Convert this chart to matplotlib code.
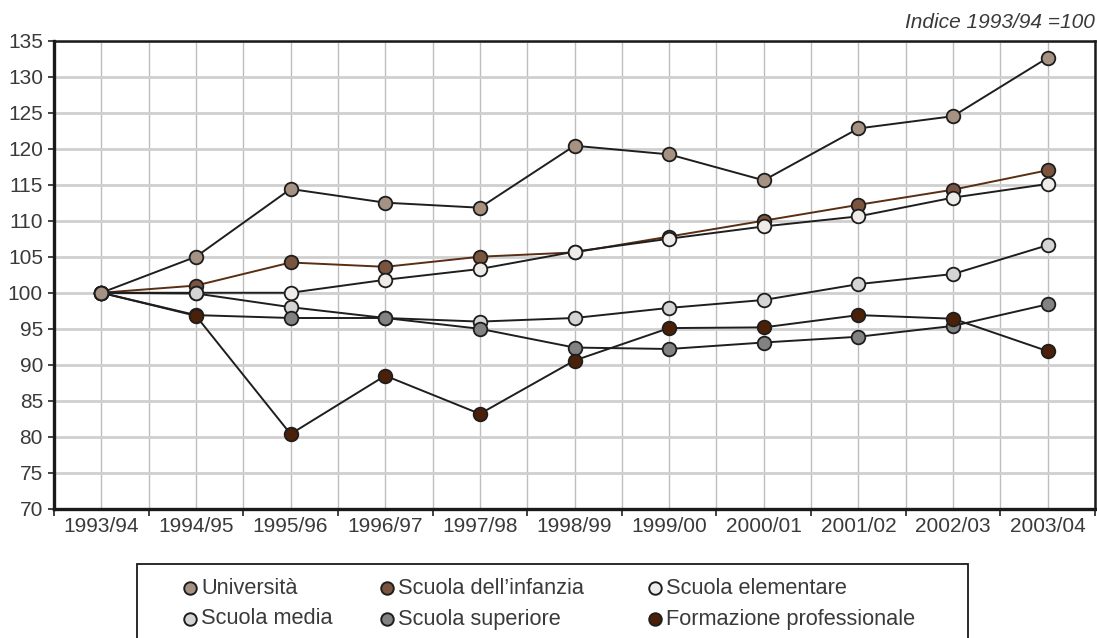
import matplotlib
matplotlib.use("Agg")
import matplotlib.pyplot as plt
from matplotlib.lines import Line2D
from matplotlib.patches import Rectangle

plt.rcParams['font.family'] = ['Liberation Sans', 'DejaVu Sans']

years = ['1993/94', '1994/95', '1995/96', '1996/97', '1997/98', '1998/99',
         '1999/00', '2000/01', '2001/02', '2002/03', '2003/04']

universita = [100, 105.0, 114.4, 112.5, 111.8, 120.4, 119.2, 115.6, 122.8, 124.5, 132.6]
infanzia = [100, 101.0, 104.2, 103.6, 105.0, 105.6, 107.8, 110.0, 112.2, 114.3, 117.0]
elementare = [100, 100.0, 100.0, 101.8, 103.3, 105.7, 107.5, 109.2, 110.6, 113.2, 115.1]
media = [100, 99.9, 98.0, 96.5, 96.0, 96.5, 97.9, 99.0, 101.2, 102.6, 106.6]
superiore = [100, 96.9, 96.5, 96.5, 95.0, 92.4, 92.2, 93.1, 93.9, 95.4, 98.4]
formazione = [100, 96.8, 80.4, 88.5, 83.2, 90.6, 95.1, 95.2, 96.9, 96.4, 91.9]

# name, values, marker colour, line colour, zorder
series = [
    ('Università', universita, '#a69282', '#1e1e1e', 8),
    ('Scuola dell\u2019infanzia', infanzia, '#7b5440', '#5a2e12', 3),
    ('Scuola elementare', elementare, '#efebe8', '#1e1e1e', 4),
    ('Scuola media', media, '#d4d4d4', '#1e1e1e', 5),
    ('Scuola superiore', superiore, '#828282', '#1e1e1e', 6),
    ('Formazione professionale', formazione, '#4b2008', '#1e1e1e', 7),
]

W, H = 1097, 638
fig = plt.figure(figsize=(W / 100, H / 100), dpi=100)
ax = fig.add_axes([54 / W, 1 - 509 / H, (1095 - 54) / W, (509 - 40.5) / H])

x = list(range(len(years)))
for name, vals, mc, lc, z in series:
    ax.plot(x, vals, color=lc, lw=1.4, marker='o', markersize=9.8,
            markerfacecolor=mc, markeredgecolor='#1e1e1e', markeredgewidth=1.3,
            zorder=z)

ax.set_xlim(-0.5, len(years) - 0.5)
ax.set_ylim(70, 135)
ax.set_yticks(range(70, 136, 5))
ax.set_xticks(x)
ax.set_xticklabels(years)
ax.set_xticks([i + 0.5 for i in range(-1, len(years))], minor=True)

ax.tick_params(axis='x', which='major', length=0, pad=6, labelsize=15, labelcolor='#3a3a3a')
ax.tick_params(axis='x', which='minor', length=5, width=1.2, color='#222222', direction='out')
ax.tick_params(axis='y', length=4, width=1.2, color='#222222', pad=4, labelsize=15,
               labelcolor='#3a3a3a')

ax.grid(axis='y', color='#cfcfcf', lw=2, zorder=0)
ax.grid(axis='x', which='both', color='#bdbdbd', lw=1, zorder=0)
ax.set_axisbelow(True)

for s in ['left', 'bottom']:
    ax.spines[s].set_linewidth(2.4)
    ax.spines[s].set_color('#1a1a1a')
for s in ['top', 'right']:
    ax.spines[s].set_linewidth(1.8)
    ax.spines[s].set_color('#1a1a1a')

fig.text(1095 / W, 1 - 22 / H, 'Indice 1993/94 =100', ha='right', va='center',
         fontsize=15, style='italic', color='#3a3a3a')

# legend box (runs off the bottom edge, as in the original)
fig.add_artist(Rectangle((137 / W, -10 / H), (968 - 137) / W, (H + 10 - 564) / H,
                         transform=fig.transFigure, fill=False, edgecolor='#1a1a1a',
                         lw=1.3))
col_x = [190, 387, 655]
row_y = [588, 619]
layout = [(0, 0), (0, 1), (0, 2), (1, 0), (1, 1), (1, 2)]
for (name, vals, mc, lc, z), (r, c) in zip(series, layout):
    px, py = col_x[c] / W, 1 - row_y[r] / H
    fig.add_artist(Line2D([px], [py], transform=fig.transFigure, marker='o',
                          markersize=9, markerfacecolor=mc, markeredgecolor='#1e1e1e',
                          markeredgewidth=1.4, linestyle='none'))
    fig.text(px + 11 / W, py, name, ha='left', va='center', fontsize=15.7, color='#3a3a3a')

fig.savefig('out.png', dpi=100)
